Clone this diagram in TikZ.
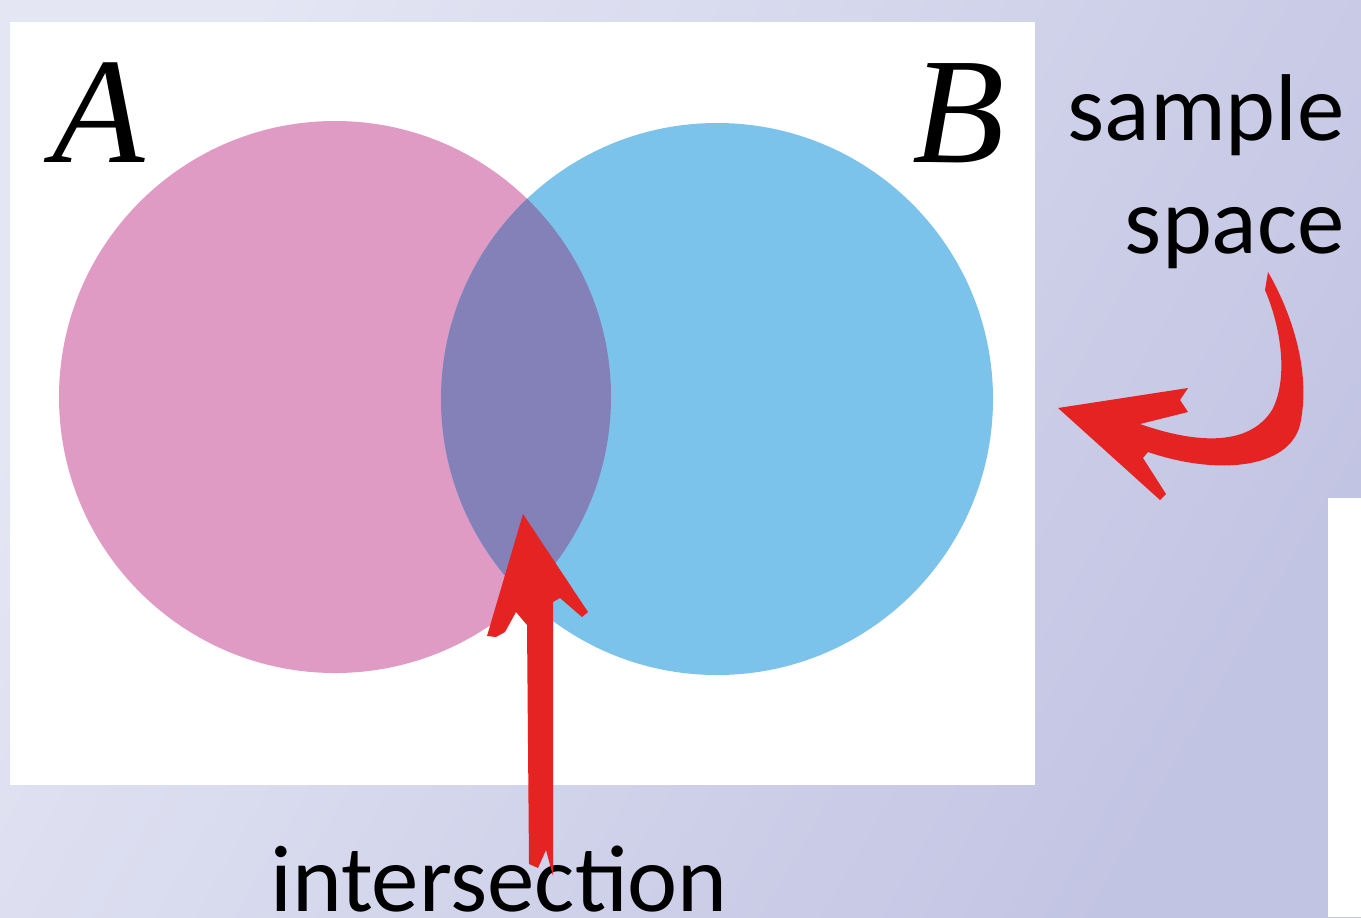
\documentclass[tikz,border=0pt]{standalone}
\usepackage{fontspec}
\newfontfamily\calib{Carlito}
\newfontfamily\seri{Liberation Serif}
\definecolor{bgL}{HTML}{E4E6F4}
\definecolor{bgR}{HTML}{C2C4E3}
\definecolor{pinkA}{HTML}{E09BC4}
\definecolor{blueB}{HTML}{7BC3EA}
\definecolor{overlap}{HTML}{8480B8}
\definecolor{arrowred}{HTML}{E62323}
\tikzset{
  lbl/.style={inner sep=0pt, font=\calib\fontsize{54}{54}\selectfont},
  setlbl/.style={inner sep=0pt, font=\seri\itshape\fontsize{86}{86}\selectfont},
  redarrow/.style={fill=arrowred, draw=none}
}
\begin{document}
\begin{tikzpicture}[x=0.02cm, y=-0.02cm]
\useasboundingbox (0,0) rectangle (1361,917);
% background
\shade[left color=bgL, right color=bgR, shading angle=60] (0,0) rectangle (1361,917);
% white panels
\fill[white] (10,22) rectangle (1035,785);
\fill[white] (1328,498) rectangle (1361,917);
% circles
\fill[pinkA] (335,397) circle (276);
\fill[blueB] (717,399) circle (276);
\begin{scope}
  \clip (335,397) circle (276);
  \fill[overlap] (717,399) circle (276);
\end{scope}
% labels
\node[setlbl, anchor=base west] (A) at (52,162) {A};
\node[setlbl, anchor=base west] (B) at (912,162) {B};
\node[lbl, anchor=base east] (s1) at (1345,140) {sample};
\node[lbl, anchor=base east] (s2) at (1345,253) {space};
\node[lbl, anchor=base west] (inter) at (270,911) {intersection};
% vertical red arrow
\fill[redarrow] (523,514) -- (588,612) -- (582,617) -- (560,598) -- (553,602)
  -- (553,876) -- (546,850) -- (538,868) -- (529,864) -- (527,625)
  -- (516,612) -- (505,632) -- (496,637) -- (487,636) -- cycle;
% curved red arrow
\fill[redarrow] (1058,408) -- (1188,388) -- (1180,400) -- (1188,412) -- (1140,424)
  .. controls (1200,445) and (1250,445) .. (1272,410)
  .. controls (1288,380) and (1282,330) .. (1265,290)
  -- (1268,272)
  .. controls (1290,310) and (1312,370) .. (1300,425)
  .. controls (1288,470) and (1215,475) .. (1148,452)
  -- (1143,458) -- (1166,494) -- (1160,500) -- cycle;
\end{tikzpicture}
\end{document}
